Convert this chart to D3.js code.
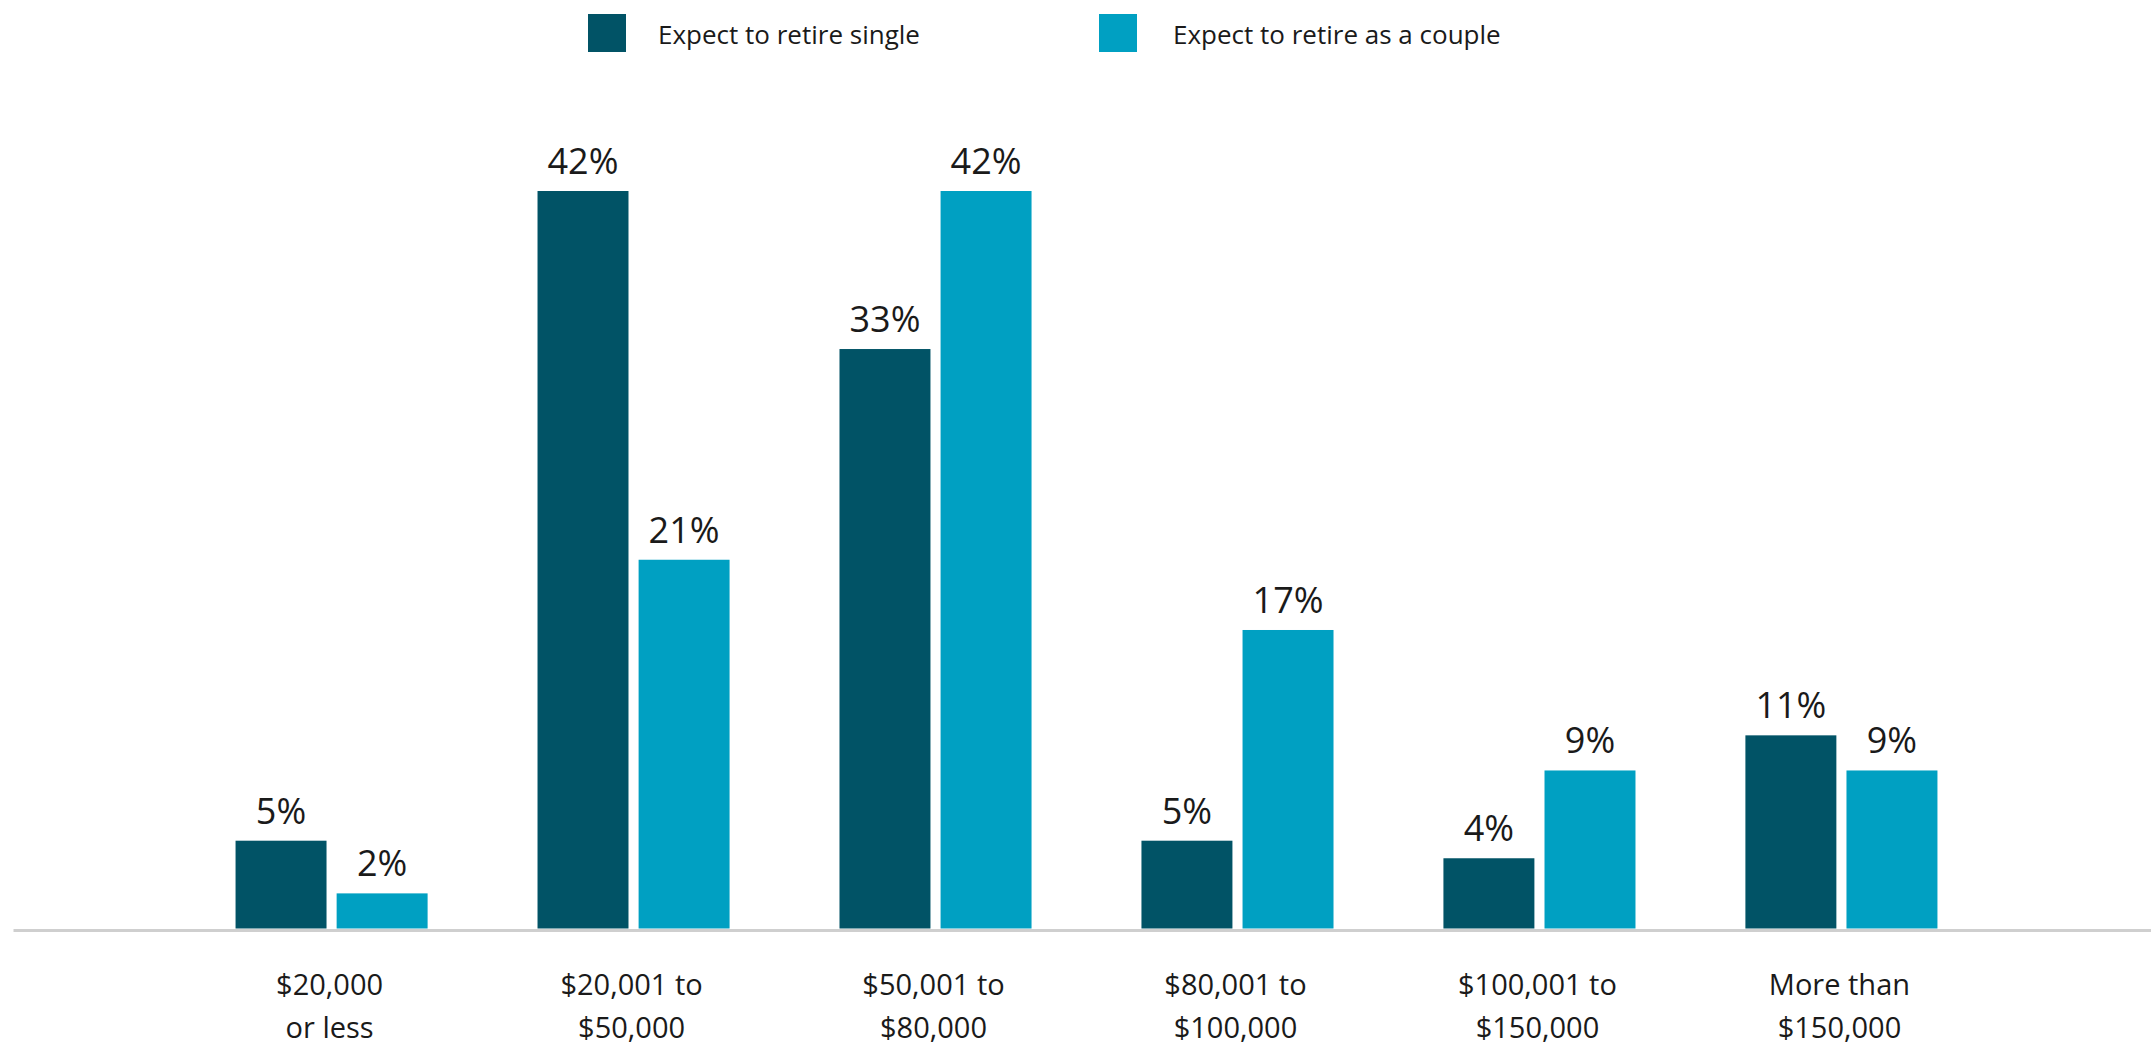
<!DOCTYPE html>
<html>
<head>
<meta charset="utf-8">
<script src="https://cdn.jsdelivr.net/npm/d3@7/dist/d3.min.js"></script>
<style>
  html, body { margin: 0; padding: 0; background: #ffffff; }
  svg { display: block; }
  text { font-family: "Open Sans", "Noto Sans", sans-serif; fill: #1a1a1a; }
</style>
</head>
<body>
<svg id="chart" width="2151" height="1048"></svg>
<script>
const categories = [
  ["$20,000", "or less"],
  ["$20,001 to", "$50,000"],
  ["$50,001 to", "$80,000"],
  ["$80,001 to", "$100,000"],
  ["$100,001 to", "$150,000"],
  ["More than", "$150,000"]
];
const seriesNames = ["Expect to retire single", "Expect to retire as a couple"];
const singleValues = [5, 42, 33, 5, 4, 11];
const coupleValues = [2, 21, 42, 17, 9, 9];
const seriesColors = ["#015366", "#00a0c2"];

const svg = d3.select("#chart");
const baseY = 928.5;

const catKeys = categories.map(c => c.join(" "));
const x0 = d3.scaleBand()
  .domain(catKeys)
  .range([13, 2160])
  .paddingInner(0.364)
  .paddingOuter(0.737);

const x1 = d3.scaleBand()
  .domain(seriesNames)
  .range([0, x0.bandwidth()])
  .paddingInner(0.1);

const y = d3.scaleLinear()
  .domain([0, 42])
  .range([baseY, 191]);

const data = catKeys.map((k, i) => ({
  key: k,
  lines: categories[i],
  values: [
    { name: seriesNames[0], value: singleValues[i], color: seriesColors[0] },
    { name: seriesNames[1], value: coupleValues[i], color: seriesColors[1] }
  ]
}));

// Bars
const groups = svg.append("g").selectAll("g")
  .data(data).join("g")
  .attr("transform", d => `translate(${x0(d.key)},0)`);

groups.selectAll("rect")
  .data(d => d.values).join("rect")
  .attr("x", d => x1(d.name))
  .attr("y", d => y(d.value))
  .attr("width", x1.bandwidth())
  .attr("height", d => y(0) - y(d.value))
  .attr("fill", d => d.color);

groups.selectAll("text.val")
  .data(d => d.values).join("text")
  .attr("class", "val")
  .attr("x", d => x1(d.name) + x1.bandwidth() / 2)
  .attr("y", d => y(d.value) - 17)
  .attr("text-anchor", "middle")
  .style("font-size", "36px")
  .text(d => d.value + "%");

// Axis
const axis = svg.append("g")
  .attr("transform", `translate(0,${baseY + 1.5})`)
  .call(d3.axisBottom(x0).tickSize(0).tickFormat(() => ""));
axis.select(".domain").attr("stroke", "#cfcfcf").attr("stroke-width", 3);

axis.selectAll(".tick text").remove();
axis.selectAll(".tick").each(function(k, i) {
  const t = d3.select(this).append("text")
    .attr("text-anchor", "middle")
    .style("font-size", "29px")
    .attr("fill", "#1a1a1a");
  categories[i].forEach((line, j) => {
    t.append("tspan").attr("x", -2).attr("y", 65 + j * 43).text(line);
  });
});

// Legend
const legendPos = [{ sx: 588, tx: 658 }, { sx: 1099, tx: 1173 }];
const legend = svg.append("g");
seriesNames.forEach((name, i) => {
  legend.append("rect")
    .attr("x", legendPos[i].sx).attr("y", 14)
    .attr("width", 38).attr("height", 38)
    .attr("fill", seriesColors[i]);
  legend.append("text")
    .attr("x", legendPos[i].tx).attr("y", 44)
    .style("font-size", "26px")
    .text(name);
});
</script>
</body>
</html>
